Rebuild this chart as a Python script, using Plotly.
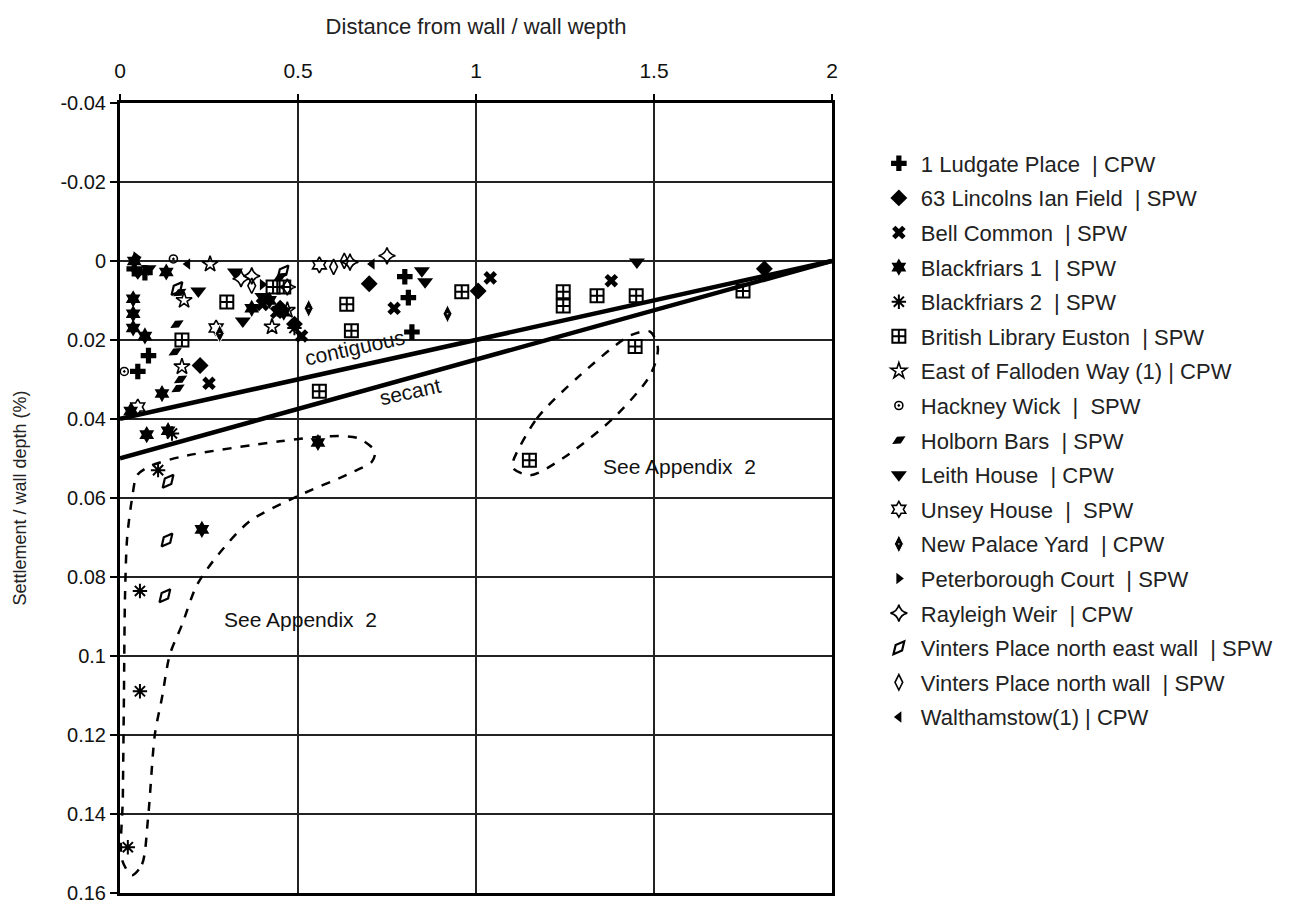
import plotly.graph_objects as go

# ---------------- data ----------------
ludgate_x = [0.04, 0.07, 0.05, 0.08, 0.80, 0.81, 0.82]
ludgate_y = [0.002, 0.003, 0.028, 0.024, 0.004, 0.0093, 0.018]

lincolns_x = [0.225, 0.45, 0.49, 0.70, 1.006, 1.81]
lincolns_y = [0.0265, 0.012, 0.016, 0.0058, 0.0076, 0.002]

bell_x = [0.25, 0.40, 0.44, 0.51, 0.77, 1.04, 1.38]
bell_y = [0.031, 0.011, 0.013, 0.019, 0.012, 0.0043, 0.005]

bf1_x = [0.04, 0.037, 0.037, 0.037, 0.07, 0.13, 0.118, 0.03, 0.075, 0.135, 0.37, 0.42, 0.46, 0.556, 0.23]
bf1_y = [0.0, 0.0096, 0.0134, 0.017, 0.019, 0.0028, 0.0336, 0.038, 0.044, 0.043, 0.012, 0.010, 0.013, 0.046, 0.068]

bf2_x = [0.107, 0.146, 0.056, 0.056, 0.022, 0.49]
bf2_y = [0.053, 0.0437, 0.0836, 0.109, 0.1485, 0.017]

bl_x = [0.174, 0.30, 0.43, 0.46, 0.56, 0.637, 0.65, 0.96, 1.245, 1.245, 1.34, 1.45, 1.447, 1.75, 1.15]
bl_y = [0.020, 0.0104, 0.0066, 0.0066, 0.033, 0.011, 0.0177, 0.0078, 0.0078, 0.0114, 0.0088, 0.0088, 0.0217, 0.0076, 0.0505]

fall_x = [0.253, 0.18, 0.427, 0.174, 0.47]
fall_y = [0.0008, 0.010, 0.0167, 0.0268, 0.0125]

hack_x = [0.15, 0.012]
hack_y = [-0.0005, 0.028]

holb_x = [0.168, 0.16, 0.155, 0.163, 0.17, 0.45]
holb_y = [0.008, 0.016, 0.023, 0.0323, 0.030, 0.004]

leith_x = [0.05, 0.08, 0.323, 0.22, 0.345, 0.848, 0.857, 1.452, 0.40]
leith_y = [0.003, 0.002, 0.0028, 0.0076, 0.0152, 0.0025, 0.0053, 0.0003, 0.009]

unsey_x = [0.56, 0.05, 0.27]
unsey_y = [0.001, 0.037, 0.017]

npy_x = [0.28, 0.53, 0.92]
npy_y = [0.0184, 0.012, 0.0134]

peter_x = [0.045, 0.40]
peter_y = [-0.001, 0.006]

ray_x = [0.37, 0.47, 0.646, 0.75, 0.34]
ray_y = [0.0038, 0.0066, 0.0003, -0.0013, 0.0045]

vne_x = [0.458, 0.135, 0.132, 0.126, 0.16]
vne_y = [0.0028, 0.0558, 0.0707, 0.0848, 0.007]

vn_x = [0.37, 0.60, 0.63]
vn_y = [0.0063, 0.0015, 0.0]

walt_x = [0.19, 0.708]
walt_y = [0.0008, 0.0008]

# design lines
contig_x = [0, 2]
contig_y = [0.04, 0.0]
secant_x = [0, 2]
secant_y = [0.05, 0.0]

# dashed "see appendix" outlines
loopL_x = [0.034, 0.062, 0.079, 0.098, 0.118, 0.140, 0.174, 0.216, 0.275, 0.365, 0.506, 0.646, 0.708, 0.716,
           0.669, 0.590, 0.449, 0.177, 0.084, 0.048, 0.034, 0.020, 0.014, 0.011, 0.008, 0.006, 0.034]
loopL_y = [0.1556, 0.1528, 0.1409, 0.1199, 0.1106, 0.0997, 0.0922, 0.0821, 0.0745, 0.0659, 0.0593, 0.0538,
           0.0508, 0.0482, 0.0449, 0.0444, 0.0457, 0.0495, 0.0520, 0.0543, 0.0601, 0.0702, 0.0854, 0.1106,
           0.1359, 0.1518, 0.1556]
loopR_x = [1.104, 1.171, 1.292, 1.433, 1.489, 1.511, 1.489, 1.385, 1.244, 1.152, 1.104, 1.104]
loopR_y = [0.0508, 0.0399, 0.0290, 0.0189, 0.0179, 0.0222, 0.0290, 0.0399, 0.0500, 0.0543, 0.0525, 0.0508]

y_ticks = [-0.04, -0.02, 0, 0.02, 0.04, 0.06, 0.08, 0.1, 0.12, 0.14, 0.16]
y_labels = ["-0.04", "-0.02", "0", "0.02", "0.04", "0.06", "0.08", "0.1", "0.12", "0.14", "0.16"]
x_ticks = [0, 0.5, 1, 1.5, 2]
x_labels = ["0", "0.5", "1", "1.5", "2"]

series = [
    ("1 Ludgate Place  | CPW", ludgate_x, ludgate_y, dict(symbol="cross", size=13, color="black")),
    ("63 Lincolns Ian Field  | SPW", lincolns_x, lincolns_y, dict(symbol="diamond", size=13, color="black")),
    ("Bell Common  | SPW", bell_x, bell_y, dict(symbol="x", size=12, color="black")),
    ("Blackfriars 1  | SPW", bf1_x, bf1_y, dict(symbol="hexagram", size=13, color="black")),
    ("Blackfriars 2  | SPW", bf2_x, bf2_y, dict(symbol="asterisk-open", size=12, color="black", line=dict(color="black", width=2))),
    ("British Library Euston  | SPW", bl_x, bl_y, dict(symbol="square-cross-open", size=13, color="black", line=dict(color="black", width=2))),
    ("East of Falloden Way (1) | CPW", fall_x, fall_y, dict(symbol="star-open", size=12, color="black", line=dict(color="black", width=1.6))),
    ("Hackney Wick  |  SPW", hack_x, hack_y, dict(symbol="circle-open-dot", size=8, color="black", line=dict(color="black", width=1.6))),
    ("Holborn Bars  | SPW", holb_x, holb_y, dict(symbol="diamond-wide", size=11, angle=-30, color="black")),
    ("Leith House  | CPW", leith_x, leith_y, dict(symbol="triangle-down", size=14, color="black")),
    ("Unsey House  |  SPW", unsey_x, unsey_y, dict(symbol="hexagram-open", size=12, color="black", line=dict(color="black", width=1.6))),
    ("New Palace Yard  | CPW", npy_x, npy_y, dict(symbol="diamond-tall-dot", size=13, color="black", line=dict(color="white", width=1))),
    ("Peterborough Court  | SPW", peter_x, peter_y, dict(symbol="triangle-right", size=10, color="black")),
    ("Rayleigh Weir  | CPW", ray_x, ray_y, dict(symbol="star-diamond-open", size=12, color="black", line=dict(color="black", width=1.6))),
    ("Vinters Place north east wall  | SPW", vne_x, vne_y, dict(symbol="diamond-tall-open", size=12, angle=40, color="black", line=dict(color="black", width=2.2))),
    ("Vinters Place north wall  | SPW", vn_x, vn_y, dict(symbol="diamond-tall-open", size=11, color="black", line=dict(color="black", width=1.6))),
    ("Walthamstow(1) | CPW", walt_x, walt_y, dict(symbol="triangle-left", size=10, color="black")),
]

fig = go.Figure()

for xs, ys, name in [(contig_x, contig_y, "contiguous"), (secant_x, secant_y, "secant")]:
    fig.add_trace(go.Scatter(x=xs, y=ys, mode="lines", line=dict(color="black", width=4.5),
                             showlegend=False, hoverinfo="skip", name=name))

for xs, ys in [(loopL_x, loopL_y), (loopR_x, loopR_y)]:
    fig.add_trace(go.Scatter(x=xs, y=ys, mode="lines",
                             line=dict(color="black", width=2.5, dash="dash", shape="spline", smoothing=0.8),
                             showlegend=False, hoverinfo="skip"))

for i, (name, xs, ys, mk) in enumerate(series):
    fig.add_trace(go.Scatter(x=xs, y=ys, mode="markers", name=name, marker=mk,
                             legendgroup=f"g{i}", cliponaxis=False))

ann_font = dict(family="Liberation Sans, Arial", size=21, color="#111")
fig.add_annotation(x=0.66, y=0.0220, xref="x", yref="y", text="contiguous", showarrow=False,
                   textangle=-12.5, font=ann_font)
fig.add_annotation(x=0.815, y=0.0330, xref="x", yref="y", text="secant", showarrow=False,
                   textangle=-12.5, font=ann_font)
fig.add_annotation(x=0.506, y=0.0907, xref="x", yref="y", text="See Appendix  2", showarrow=False,
                   font=ann_font)
fig.add_annotation(x=1.573, y=0.052, xref="x", yref="y", text="See Appendix  2", showarrow=False,
                   font=ann_font)

fig.update_xaxes(side="top", range=[0, 2], tickvals=x_ticks, ticktext=x_labels, automargin=False,
                 showgrid=True, gridcolor="#222", gridwidth=1.5, zeroline=False,
                 showline=True, linecolor="black", linewidth=3, mirror=True,
                 ticks="outside", ticklen=6, tickwidth=1.5, tickcolor="black", ticklabelstandoff=8,
                 tickfont=dict(family="Liberation Sans Narrow, Arial Narrow, Liberation Sans", size=21, color="#111"),
                 title=dict(text="Distance from wall / wall wepth", standoff=18,
                            font=dict(family="Liberation Sans Narrow, Arial Narrow, Liberation Sans", size=22, color="#222")))
fig.update_yaxes(range=[0.1601, -0.04], tickvals=y_ticks, ticktext=y_labels, automargin=False,
                 showgrid=True, gridcolor="#222", gridwidth=1.5, zeroline=False,
                 showline=True, linecolor="black", linewidth=3, mirror=True,
                 ticks="outside", ticklen=7, tickwidth=1.5, tickcolor="black",
                 tickfont=dict(family="Liberation Sans, Arial", size=20, color="#111"),
                 title=dict(text="Settlement / wall depth (%)", standoff=30,
                            font=dict(family="Liberation Sans Narrow, Arial Narrow, Liberation Sans", size=18, color="#222")))

fig.update_layout(
    width=1315, height=900,
    margin=dict(l=112, r=491, t=95, b=15),
    plot_bgcolor="white", paper_bgcolor="white",
    legend=dict(x=1.063, y=0.950, xanchor="left", yanchor="top",
                font=dict(family="Liberation Sans, Arial", size=22, color="#222"),
                tracegroupgap=3, itemwidth=34, bgcolor="rgba(0,0,0,0)"),
)

fig.write_html("out.html")
